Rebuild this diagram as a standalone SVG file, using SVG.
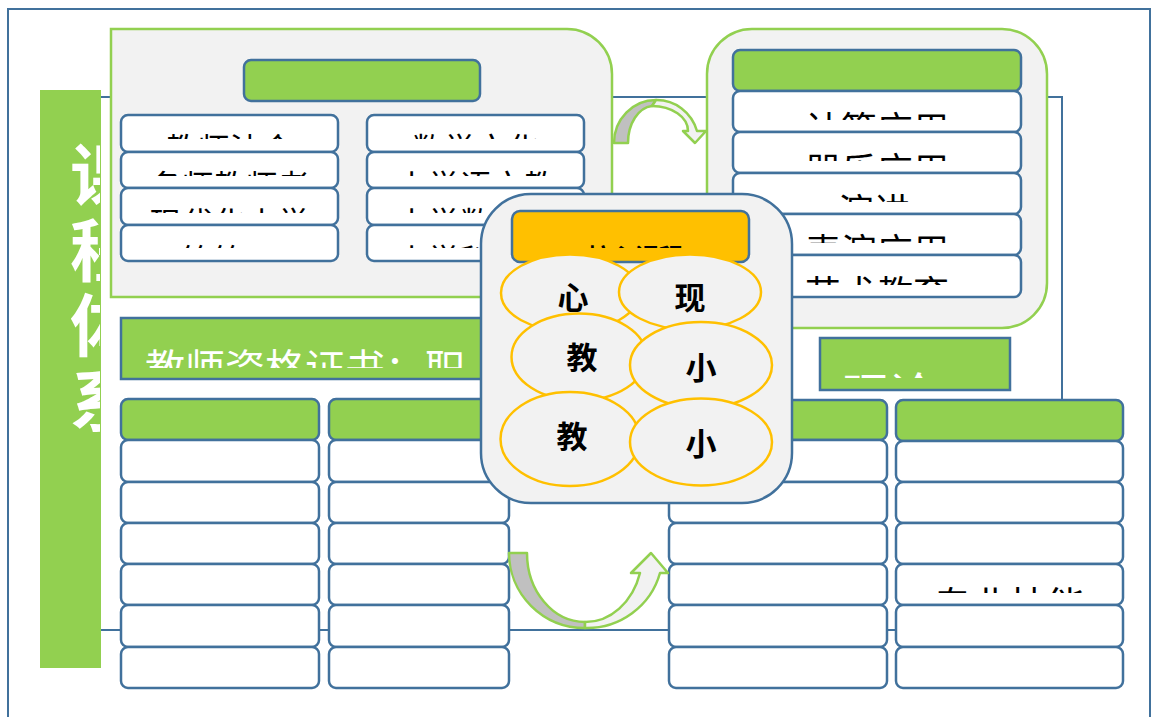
<svg xmlns="http://www.w3.org/2000/svg" width="1152" height="717" viewBox="0 0 1152 717">
<style>
.frame{fill:none;stroke:#41719c;stroke-width:2}
.row{fill:#fff;stroke:#41719c;stroke-width:2.5}
.hdr{fill:#92d050;stroke:#41719c;stroke-width:2.5}
.pane{fill:#f2f2f2;stroke:#92d050;stroke-width:2.5}
.ell{fill:#f2f2f2;stroke:#ffc000;stroke-width:2.5}
.t{font-family:"Noto Sans CJK SC","Noto Sans",sans-serif;fill:#000}
.w{fill:#fff}
.c{text-anchor:middle}
.b{font-weight:bold}
.arrg{fill:#c0c0c0;stroke:#92d050;stroke-width:2.5;stroke-linejoin:round}
.arrl{fill:#f2f2f2;stroke:#92d050;stroke-width:2.5;stroke-linejoin:round}
</style>
<defs>
<clipPath id="cTitle"><rect x="40" y="90" width="60" height="578"/></clipPath>
<clipPath id="cL1"><rect x="121" y="115" width="217" height="24"/></clipPath>
<clipPath id="cL2"><rect x="121" y="152" width="217" height="24"/></clipPath>
<clipPath id="cL3"><rect x="121" y="188" width="217" height="25"/></clipPath>
<clipPath id="cL4"><rect x="121" y="225" width="217" height="23"/></clipPath>
<clipPath id="cR1"><rect x="367" y="115" width="217" height="24"/></clipPath>
<clipPath id="cR2"><rect x="367" y="152" width="217" height="24"/></clipPath>
<clipPath id="cR3"><rect x="367" y="188" width="217" height="25"/></clipPath>
<clipPath id="cR4"><rect x="367" y="225" width="217" height="23"/></clipPath>
<clipPath id="cB1"><rect x="733" y="92" width="288" height="28"/></clipPath>
<clipPath id="cB2"><rect x="733" y="133" width="288" height="28"/></clipPath>
<clipPath id="cB3"><rect x="733" y="174" width="288" height="28"/></clipPath>
<clipPath id="cB4"><rect x="733" y="215" width="288" height="28"/></clipPath>
<clipPath id="cB5"><rect x="733" y="256" width="288" height="29"/></clipPath>
<clipPath id="cBar"><rect x="121" y="318" width="640" height="50"/></clipPath>
<clipPath id="cTheory"><rect x="820" y="338" width="190" height="40"/></clipPath>
<clipPath id="cSkill"><rect x="896" y="564" width="227" height="29"/></clipPath>
<clipPath id="cCore"><rect x="512" y="211" width="237" height="37"/></clipPath>
</defs>

<rect class="frame" x="8" y="9" width="1142" height="720"/>
<rect class="frame" x="100" y="97" width="962" height="533"/>

<g id="title">
<rect x="40" y="90" width="61" height="578" fill="#92d050"/>
<text class="t w b" font-size="68" writing-mode="vertical-rl" letter-spacing="7" x="104" y="141" clip-path="url(#cTitle)">课程体系</text>
</g>

<g id="general-courses">
<path class="pane" d="M111,29 H567 A45,45 0 0 1 612,74 V297 H111 Z"/>
<rect class="hdr" x="244" y="60" width="236" height="41" rx="7"/>
<rect class="row" x="121" y="115" width="217" height="37" rx="7"/>
<rect class="row" x="121" y="152" width="217" height="36" rx="7"/>
<rect class="row" x="121" y="188" width="217" height="37" rx="7"/>
<rect class="row" x="121" y="225" width="217" height="36" rx="7"/>
<rect class="row" x="367" y="115" width="217" height="37" rx="7"/>
<rect class="row" x="367" y="152" width="217" height="36" rx="7"/>
<rect class="row" x="367" y="188" width="217" height="37" rx="7"/>
<rect class="row" x="367" y="225" width="217" height="36" rx="7"/>
<g class="t c" font-size="32">
<text x="229.5" y="160.5" clip-path="url(#cL1)">教师法令</text>
<text x="229.5" y="197.5" clip-path="url(#cL2)">名师教师者</text>
<text x="229.5" y="234.5" clip-path="url(#cL3)">现代化小学</text>
<text x="229.5" y="271.5" clip-path="url(#cL4)">等等二</text>
<text x="475.5" y="160.5" clip-path="url(#cR1)">数学文化</text>
<text x="475.5" y="197.5" clip-path="url(#cR2)">小学语文教</text>
<text x="475.5" y="234.5" clip-path="url(#cR3)">小学数学教</text>
<text x="475.5" y="271.5" clip-path="url(#cR4)">小学科学教</text>
</g>
</g>

<g id="skills-courses">
<rect class="pane" x="707" y="29" width="340" height="299" rx="45"/>
<rect class="hdr" x="733" y="50" width="288" height="41" rx="7"/>
<rect class="row" x="733" y="91" width="288" height="41" rx="7"/>
<rect class="row" x="733" y="132" width="288" height="41" rx="7"/>
<rect class="row" x="733" y="173" width="288" height="41" rx="7"/>
<rect class="row" x="733" y="214" width="288" height="41" rx="7"/>
<rect class="row" x="733" y="255" width="288" height="42" rx="7"/>
<g class="t c" font-size="36">
<text x="877" y="143" clip-path="url(#cB1)">计算应用</text>
<text x="877" y="184" clip-path="url(#cB2)">器乐应用</text>
<text x="874" y="225" clip-path="url(#cB3)">演讲</text>
<text x="877" y="265" clip-path="url(#cB4)">表演应用</text>
<text x="877" y="307" clip-path="url(#cB5)">艺术教育</text>
</g>
</g>

<g id="certificate-bar">
<rect x="121" y="318" width="640" height="61" fill="#92d050" stroke="#41719c" stroke-width="2.5"/>
<text class="t w" font-size="40" x="145" y="383" clip-path="url(#cBar)">教师资格证书：职</text>
</g>

<g id="theory">
<rect x="820" y="338" width="190" height="52" fill="#92d050" stroke="#41719c" stroke-width="2.5"/>
<text class="t w" font-size="46" x="843" y="411" clip-path="url(#cTheory)">理论</text>
</g>

<g id="column-1">
<rect class="hdr" x="121" y="399" width="198" height="41" rx="7"/>
<rect class="row" x="121" y="440" width="198" height="42" rx="7"/>
<rect class="row" x="121" y="482" width="198" height="41" rx="7"/>
<rect class="row" x="121" y="523" width="198" height="41" rx="7"/>
<rect class="row" x="121" y="564" width="198" height="41" rx="7"/>
<rect class="row" x="121" y="605" width="198" height="42" rx="7"/>
<rect class="row" x="121" y="647" width="198" height="41" rx="7"/>
</g>
<g id="column-2">
<rect class="hdr" x="329" y="399" width="180" height="41" rx="7"/>
<rect class="row" x="329" y="440" width="180" height="42" rx="7"/>
<rect class="row" x="329" y="482" width="180" height="41" rx="7"/>
<rect class="row" x="329" y="523" width="180" height="41" rx="7"/>
<rect class="row" x="329" y="564" width="180" height="41" rx="7"/>
<rect class="row" x="329" y="605" width="180" height="42" rx="7"/>
<rect class="row" x="329" y="647" width="180" height="41" rx="7"/>
</g>
<g id="column-3">
<rect class="hdr" x="669" y="400" width="218" height="40" rx="7"/>
<rect class="row" x="669" y="440" width="218" height="42" rx="7"/>
<rect class="row" x="669" y="482" width="218" height="41" rx="7"/>
<rect class="row" x="669" y="523" width="218" height="41" rx="7"/>
<rect class="row" x="669" y="564" width="218" height="41" rx="7"/>
<rect class="row" x="669" y="605" width="218" height="42" rx="7"/>
<rect class="row" x="669" y="647" width="218" height="41" rx="7"/>
</g>
<g id="column-4">
<rect class="hdr" x="896" y="400" width="227" height="41" rx="7"/>
<rect class="row" x="896" y="441" width="227" height="41" rx="7"/>
<rect class="row" x="896" y="482" width="227" height="41" rx="7"/>
<rect class="row" x="896" y="523" width="227" height="41" rx="7"/>
<rect class="row" x="896" y="564" width="227" height="41" rx="7"/>
<rect class="row" x="896" y="605" width="227" height="42" rx="7"/>
<rect class="row" x="896" y="647" width="227" height="41" rx="7"/>
<text class="t c" font-size="38" x="1009.5" y="618.5" clip-path="url(#cSkill)">专业技能</text>
</g>

<g id="connectors">
<path class="arrg" d="M614,143 A42,43 0 0 1 656,100 L652,106 A26,37 0 0 0 628,143 Z"/>
<path class="arrl" d="M656,100 A42,43 0 0 1 697,131 L706,131 L695,143 L683,131 L688,131 A36,25 0 0 0 652,106 Z"/>
<path class="arrg" d="M509,553 L527,553 A58,69 0 0 0 585,622 L585,628 A76,75 0 0 1 509,553 Z"/>
<path class="arrl" d="M585,628 A76,75 0 0 0 660,573 L668,573 L651,553 L631,573 L640,573 A57,69 0 0 1 585,622 Z"/>
</g>

<g id="core-courses">
<rect x="481" y="194" width="311" height="309" rx="50" fill="#f2f2f2" stroke="#41719c" stroke-width="2.5"/>
<rect x="512" y="211" width="237" height="51" rx="8" fill="#ffc000" stroke="#41719c" stroke-width="2.5"/>
<text class="t c b" font-size="24" x="635" y="266" clip-path="url(#cCore)">核心课程</text>
<ellipse class="ell" cx="570" cy="293" rx="69" ry="38.5"/>
<ellipse class="ell" cx="690" cy="292" rx="71" ry="37.5"/>
<ellipse class="ell" cx="579" cy="357" rx="67.5" ry="43.5"/>
<ellipse class="ell" cx="701" cy="365" rx="71" ry="43"/>
<ellipse class="ell" cx="570" cy="439" rx="69.5" ry="47"/>
<ellipse class="ell" cx="701" cy="442" rx="71" ry="43.5"/>
<g class="t c b" font-size="31">
<text x="573" y="309">心</text>
<text x="690" y="309">现</text>
<text x="582" y="369">教</text>
<text x="701" y="379">小</text>
<text x="572" y="448">教</text>
<text x="701" y="455">小</text>
</g>
</g>
</svg>
